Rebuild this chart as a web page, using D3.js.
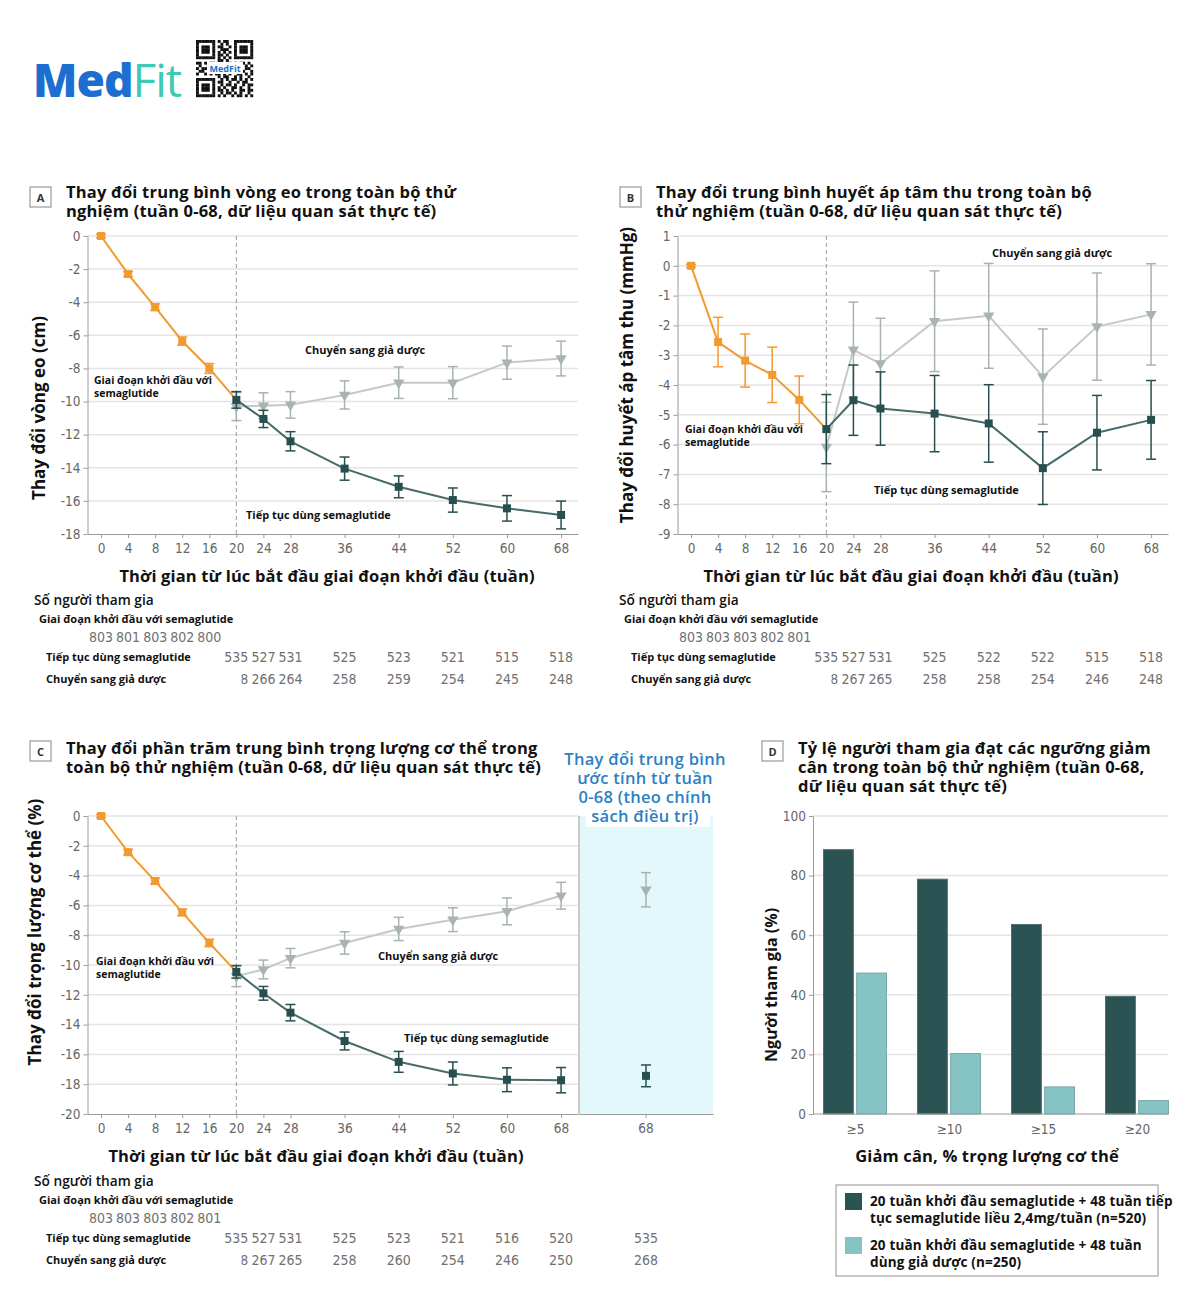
<!DOCTYPE html>
<html>
<head>
<meta charset="utf-8">
<script src="https://cdn.jsdelivr.net/npm/d3@7"></script>
<style>
body { margin: 0; background: #fff; }
svg text { font-family: "Open Sans", "DejaVu Sans", sans-serif; }
.num, .tick text { font-family: "Liberation Sans Narrow", "DejaVu Sans Condensed", sans-serif; font-stretch: condensed; }
</style>
</head>
<body>
<svg id="chart" width="1200" height="1307"></svg>
<script>
// ---- data ----
var weeksLead = [0, 4, 8, 12, 16];
var weeksRand = [20, 24, 28, 36, 44, 52, 60, 68];
var weekTicks = [0, 4, 8, 12, 16, 20, 24, 28, 36, 44, 52, 60, 68];

// A: waist circumference (cm)
var waistTicks = [0, -2, -4, -6, -8, -10, -12, -14, -16, -18];
var waistLead = [0, -2.3, -4.3, -6.35, -8.0];
var waistLeadErr = [0.1, 0.15, 0.2, 0.25, 0.3];
var waistSema = [-9.9, -11.05, -12.4, -14.05, -15.15, -15.95, -16.45, -16.85];
var waistSemaErr = [0.5, 0.52, 0.58, 0.7, 0.66, 0.73, 0.77, 0.84];
var waistPlac = [-10.3, -10.25, -10.2, -9.6, -8.86, -8.86, -7.65, -7.4];
var waistPlacErr = [0.85, 0.78, 0.8, 0.85, 0.95, 0.97, 1.0, 1.05];

// B: systolic blood pressure (mmHg)
var sbpTicks = [1, 0, -1, -2, -3, -4, -5, -6, -7, -8, -9];
var sbpLead = [0, -2.56, -3.18, -3.66, -4.5];
var sbpLeadErr = [0.05, 0.83, 0.89, 0.93, 0.8];
var sbpSema = [-5.48, -4.51, -4.79, -4.96, -5.29, -6.79, -5.6, -5.17];
var sbpSemaErr = [1.16, 1.18, 1.23, 1.28, 1.3, 1.22, 1.25, 1.32];
var sbpPlac = [-6.08, -2.82, -3.28, -1.86, -1.68, -3.72, -2.04, -1.63];
var sbpPlacErr = [1.5, 1.6, 1.52, 1.69, 1.76, 1.6, 1.8, 1.7];

// C: body weight (%)
var weightTicks = [0, -2, -4, -6, -8, -10, -12, -14, -16, -18, -20];
var weightLead = [0, -2.43, -4.37, -6.47, -8.52];
var weightLeadErr = [0.1, 0.18, 0.2, 0.22, 0.25];
var weightSema = [-10.46, -11.9, -13.2, -15.1, -16.5, -17.28, -17.7, -17.73];
var weightSemaErr = [0.42, 0.46, 0.55, 0.6, 0.7, 0.77, 0.8, 0.85];
var weightPlac = [-10.75, -10.3, -9.54, -8.52, -7.58, -6.96, -6.4, -5.35];
var weightPlacErr = [0.7, 0.63, 0.65, 0.75, 0.78, 0.8, 0.9, 0.9];
var policySema = -17.44, policySemaErr = 0.73;
var policyPlac = -4.95, policyPlacErr = 1.15;

// participants
var nA = { lead: [803, 801, 803, 802, 800], sema: [535, 527, 531, 525, 523, 521, 515, 518], plac: [268, 266, 264, 258, 259, 254, 245, 248] };
var nB = { lead: [803, 803, 803, 802, 801], sema: [535, 527, 531, 525, 522, 522, 515, 518], plac: [268, 267, 265, 258, 258, 254, 246, 248] };
var nC = { lead: [803, 803, 803, 802, 801], sema: [535, 527, 531, 525, 523, 521, 516, 520], plac: [268, 267, 265, 258, 260, 254, 246, 250] };
var nCPolicy = { sema: 535, plac: 268 };

// D: proportion reaching weight-loss thresholds
var thresholds = ["≥5", "≥10", "≥15", "≥20"];
var propSema = [88.7, 78.8, 63.6, 39.5];
var propPlac = [47.3, 20.3, 9.1, 4.5];
var propTicks = [0, 20, 40, 60, 80, 100];

// ---- colours ----
var cOrange = "#f19a30", cDark = "#284f50", cDarkLine = "#456b6b", cGray = "#a9b3af", cGrayLine = "#c3c9c6";
var cBarDark = "#2b5353", cBarLight = "#85c3c4";

var svg = d3.select("#chart");

// ---- logo ----
var logo = svg.append("g");
logo.append("text").attr("x", 33).attr("y", 97).attr("font-size", 46).attr("font-weight", 800)
  .attr("fill", "#1c6fd1").attr("letter-spacing", -1).text("Med")
  .append("tspan").attr("fill", "#3ec9b5").attr("font-weight", 500).text("Fit");
var qr = ["#######.#.##..#######", "#.....#..#.#..#.....#", "#.###.#.##..#.#.###.#", "#.###.#..###..#.###.#",
  "#.###.#.#.#.#.#.###.#", "#.....#.##.#..#.....#", "#######.#.#.#.#######", "........##.#.........",
  "##.#.##.#..##.#.##.#.", ".#..#..###.#..##..#.#", "#.##.#.#.#.##.#.#.##.", ".##..##..#..#.#..#..#",
  "#..#.#.##.#.#..##.#.#", "........#.##..#.#..#.", "#######..#.#.##.#.#.#", "#.....#.##..#..#.##..",
  "#.###.#..#.##.#..#.##", "#.###.#.#.#..##.#..#.", "#.###.#.##.#.#..##.##", "#.....#..#.##.#.#..#.",
  "#######.#.#..#.##.#.#"];
var cell = 57 / 21;
qr.forEach(function(row, r) {
  row.split("").forEach(function(ch, c) {
    if (ch === "#") logo.append("rect").attr("x", 196 + c * cell).attr("y", 40 + r * cell)
      .attr("width", cell + 0.2).attr("height", cell + 0.2).attr("fill", "#111");
  });
});
logo.append("rect").attr("x", 207).attr("y", 62).attr("width", 36).attr("height", 12).attr("fill", "#fff");
logo.append("text").attr("x", 225).attr("y", 71.5).attr("text-anchor", "middle").attr("font-size", 9)
  .attr("font-weight", 700).attr("fill", "#1c6fd1").text("MedFit");

// ---- helpers ----
function letterBox(x, y, letter) {
  svg.append("rect").attr("x", x).attr("y", y).attr("width", 21).attr("height", 20)
    .attr("fill", "#fff").attr("stroke", "#999").attr("stroke-width", 1.2);
  svg.append("text").attr("x", x + 10.5).attr("y", y + 14.5).attr("text-anchor", "middle")
    .attr("font-size", 11).attr("font-weight", 700).attr("fill", "#333").text(letter);
}

function multiText(x, y, lines, size, lh, opts) {
  opts = opts || {};
  var t = svg.append("text").attr("x", x).attr("y", y).attr("font-size", size)
    .attr("font-weight", opts.weight || 700).attr("fill", opts.fill || "#111")
    .attr("text-anchor", opts.anchor || "start")
    .attr("letter-spacing", opts.ls || 0);
  lines.forEach(function(l, i) {
    t.append("tspan").attr("x", x).attr("dy", i === 0 ? 0 : lh).text(l);
  });
  return t;
}

function title(x, y, lines) {
  return multiText(x, y, lines, 16.5, 19, { ls: 0.2 });
}

function rotLabel(cx, cy, txt, size) {
  svg.append("text").attr("transform", "translate(" + cx + "," + cy + ") rotate(-90)")
    .attr("text-anchor", "middle").attr("font-size", size).attr("font-weight", 700)
    .attr("fill", "#111").text(txt);
}

function xLabel(cx, y, txt) {
  svg.append("text").attr("x", cx).attr("y", y).attr("text-anchor", "middle").attr("font-size", 16.5)
    .attr("font-weight", 700).attr("letter-spacing", 0.15).attr("fill", "#111").text(txt);
}

function styleAxis(ax) {
  ax.selectAll("path, line").attr("stroke", "#9a9a9a");
  ax.selectAll("text").attr("fill", "#666").attr("font-size", 13.5);
}

function zip(weeks, vals, errs) {
  return weeks.map(function(w, i) { return { w: w, v: vals[i], e: errs[i] }; });
}

function drawSeries(g, x, y, pts, lineColor, markColor, shape, lineExtra) {
  var line = d3.line().x(function(d) { return x(d.w); }).y(function(d) { return y(d.v); });
  var linePts = lineExtra ? pts.concat([lineExtra]) : pts;
  g.append("path").attr("d", line(linePts)).attr("fill", "none")
    .attr("stroke", lineColor).attr("stroke-width", 2);
  var eb = g.append("g").attr("stroke", markColor).attr("stroke-width", 1.5);
  pts.forEach(function(d) {
    var px = x(d.w), y1 = y(d.v + d.e), y2 = y(d.v - d.e);
    eb.append("line").attr("x1", px).attr("x2", px).attr("y1", y1).attr("y2", y2);
    eb.append("line").attr("x1", px - 5).attr("x2", px + 5).attr("y1", y1).attr("y2", y1);
    eb.append("line").attr("x1", px - 5).attr("x2", px + 5).attr("y1", y2).attr("y2", y2);
  });
  pts.forEach(function(d) {
    if (shape === "tri") {
      g.append("path").attr("d", d3.symbol(d3.symbolTriangle, 55)())
        .attr("transform", "translate(" + x(d.w) + "," + y(d.v) + ") rotate(180)")
        .attr("fill", markColor);
    } else {
      g.append("rect").attr("x", x(d.w) - 4).attr("y", y(d.v) - 4).attr("width", 8).attr("height", 8)
        .attr("fill", markColor);
    }
  });
}

function drawLinePanel(p) {
  var g = svg.append("g");
  var x = d3.scaleLinear().domain([-2, 70.5]).range([p.left, p.right]);
  var y = d3.scaleLinear().domain([p.ticks[0], p.ticks[p.ticks.length - 1]]).range([p.top, p.bottom]);

  // gridlines
  g.selectAll(".grid").data(p.ticks.slice(0, -1)).enter().append("line")
    .attr("x1", p.left).attr("x2", p.right).attr("y1", y).attr("y2", y)
    .attr("stroke", "#e4e4e4").attr("stroke-width", 1.5);

  // dashed line at week 20
  g.append("line").attr("x1", x(20)).attr("x2", x(20)).attr("y1", p.top).attr("y2", p.bottom)
    .attr("stroke", "#9a9a9a").attr("stroke-dasharray", "4,3");

  var yAx = g.append("g").attr("transform", "translate(" + p.left + ",0)")
    .call(d3.axisLeft(y).tickValues(p.ticks).tickSize(4).tickSizeOuter(0).tickPadding(3)
      .tickFormat(function(d) { return String(d); }));
  styleAxis(yAx);
  var xAx = g.append("g").attr("transform", "translate(0," + p.bottom + ")")
    .call(d3.axisBottom(x).tickValues(weekTicks).tickSize(4).tickSizeOuter(0).tickPadding(5));
  styleAxis(xAx);

  var lead = zip(weeksLead, p.lead, p.leadErr);
  var sema = zip(weeksRand, p.sema, p.semaErr);
  var plac = zip(weeksRand, p.plac, p.placErr);

  drawSeries(g, x, y, plac, cGrayLine, cGray, "tri");
  // label background hides the lead-in line where it crosses
  if (p.leadLabelBg) {
    g.append("rect").attr("x", p.leadLabelBg[0]).attr("y", p.leadLabelBg[1])
      .attr("width", p.leadLabelBg[2]).attr("height", p.leadLabelBg[3]).attr("fill", "#fff");
  }
  drawSeries(g, x, y, lead, cOrange, cOrange, "sq", { w: 20, v: p.sema[0] });
  drawSeries(g, x, y, sema, cDarkLine, cDark, "sq");
  return { x: x, y: y, g: g };
}

function drawCounts(x, top, labelX, n) {
  multiText(labelX, top, ["Số người tham gia"], 13.7, 0, { weight: 600 });
  multiText(labelX + 5, top + 18, ["Giai đoạn khởi đầu với semaglutide"], 11, 0);
  multiText(labelX + 12, top + 56, ["Tiếp tục dùng semaglutide"], 11, 0);
  multiText(labelX + 12, top + 78, ["Chuyển sang giả dược"], 11, 0);
  var rows = [{ w: weeksLead, v: n.lead, dy: 37 }, { w: weeksRand, v: n.sema, dy: 57 }, { w: weeksRand, v: n.plac, dy: 79 }];
  rows.forEach(function(r) {
    svg.append("g").selectAll("text").data(r.v).enter().append("text").attr("class", "num")
      .attr("x", function(d, i) { return x(r.w[i]); }).attr("y", top + r.dy)
      .attr("text-anchor", "middle").attr("font-size", 14).attr("fill", "#707070")
      .text(function(d) { return d; });
  });
  // first placebo count is partly masked in the original
  svg.append("rect").attr("x", x(20) - 14).attr("y", top + 65).attr("width", 19).attr("height", 18).attr("fill", "#fff");
}

// ---- Panel A ----
letterBox(30, 187, "A");
title(66, 198, ["Thay đổi trung bình vòng eo trong toàn bộ thử", "nghiệm (tuần 0-68, dữ liệu quan sát thực tế)"]);
var pA = drawLinePanel({ left: 87.5, right: 578, top: 236, bottom: 534, ticks: waistTicks,
  lead: waistLead, leadErr: waistLeadErr, sema: waistSema, semaErr: waistSemaErr, plac: waistPlac, placErr: waistPlacErr,
  leadLabelBg: [92, 373, 133, 27] });
rotLabel(45, 408, "Thay đổi vòng eo (cm)", 17);
xLabel(327, 582, "Thời gian từ lúc bắt đầu giai đoạn khởi đầu (tuần)");
multiText(305, 354, ["Chuyển sang giả dược"], 11, 0);
multiText(94, 384, ["Giai đoạn khởi đầu với", "semaglutide"], 10.5, 13);
multiText(246, 519, ["Tiếp tục dùng semaglutide"], 11, 0);
drawCounts(pA.x, 605, 34, nA);

// ---- Panel B ----
letterBox(620, 187, "B");
title(656, 198, ["Thay đổi trung bình huyết áp tâm thu trong toàn bộ", "thử nghiệm (tuần 0-68, dữ liệu quan sát thực tế)"]);
var pB = drawLinePanel({ left: 677.5, right: 1168, top: 236, bottom: 534, ticks: sbpTicks,
  lead: sbpLead, leadErr: sbpLeadErr, sema: sbpSema, semaErr: sbpSemaErr, plac: sbpPlac, placErr: sbpPlacErr });
rotLabel(633, 375, "Thay đổi huyết áp tâm thu (mmHg)", 17);
xLabel(911, 582, "Thời gian từ lúc bắt đầu giai đoạn khởi đầu (tuần)");
multiText(992, 257, ["Chuyển sang giả dược"], 11, 0);
multiText(685, 433, ["Giai đoạn khởi đầu với", "semaglutide"], 10.5, 13);
multiText(874, 494, ["Tiếp tục dùng semaglutide"], 11, 0);
drawCounts(pB.x, 605, 619, nB);

// ---- Panel C ----
letterBox(30, 741, "C");
title(66, 754, ["Thay đổi phần trăm trung bình trọng lượng cơ thể trong", "toàn bộ thử nghiệm (tuần 0-68, dữ liệu quan sát thực tế)"]);
// treatment-policy estimate region
svg.append("rect").attr("x", 579).attr("y", 816).attr("width", 134).attr("height", 298).attr("fill", "#e2f8fb");
var pC = drawLinePanel({ left: 87.5, right: 578, top: 816, bottom: 1114, ticks: weightTicks,
  lead: weightLead, leadErr: weightLeadErr, sema: weightSema, semaErr: weightSemaErr, plac: weightPlac, placErr: weightPlacErr });
svg.append("line").attr("x1", 579).attr("x2", 579).attr("y1", 816).attr("y2", 1114).attr("stroke", "#9a9a9a");
var xPol = d3.scaleBand().domain(["68"]).range([579, 713]);
var polAx = svg.append("g").attr("transform", "translate(0,1114)")
  .call(d3.axisBottom(xPol).tickSize(4).tickSizeOuter(0).tickPadding(5));
styleAxis(polAx);
var polX = function() { return 646; };
drawSeries(svg.append("g"), polX, pC.y, [{ w: 68, v: policyPlac, e: policyPlacErr }], cGrayLine, cGray, "tri");
drawSeries(svg.append("g"), polX, pC.y, [{ w: 68, v: policySema, e: policySemaErr }], cDarkLine, cDark, "sq");
svg.append("rect").attr("x", 586).attr("y", 748).attr("width", 124).attr("height", 79).attr("fill", "#fff");
multiText(645, 765, ["Thay đổi trung bình", "ước tính từ tuần", "0-68 (theo chính", "sách điều trị)"], 16.5, 19,
  { anchor: "middle", fill: "#2b7fc3", weight: 600, ls: 0.3 });
rotLabel(41, 932, "Thay đổi trọng lượng cơ thể (%)", 17);
xLabel(316, 1162, "Thời gian từ lúc bắt đầu giai đoạn khởi đầu (tuần)");
svg.append("rect").attr("x", 375).attr("y", 946).attr("width", 130).attr("height", 14).attr("fill", "#fff");
multiText(378, 960, ["Chuyển sang giả dược"], 11, 0);
multiText(96, 965, ["Giai đoạn khởi đầu với", "semaglutide"], 10.5, 13);
multiText(404, 1042, ["Tiếp tục dùng semaglutide"], 11, 0);
drawCounts(pC.x, 1186, 34, nC);
svg.append("text").attr("class", "num").attr("x", 646).attr("y", 1243).attr("text-anchor", "middle")
  .attr("font-size", 14).attr("fill", "#707070").text(nCPolicy.sema);
svg.append("text").attr("class", "num").attr("x", 646).attr("y", 1265).attr("text-anchor", "middle")
  .attr("font-size", 14).attr("fill", "#707070").text(nCPolicy.plac);

// ---- Panel D ----
letterBox(762, 741, "D");
title(798, 754, ["Tỷ lệ người tham gia đạt các ngưỡng giảm", "cân trong toàn bộ thử nghiệm (tuần 0-68,", "dữ liệu quan sát thực tế)"]);
var dLeft = 813, dRight = 1168, dTop = 816, dBottom = 1114;
var yD = d3.scaleLinear().domain([0, 100]).range([dBottom, dTop]);
var xD = d3.scalePoint().domain(thresholds).range([855, 1137]);
var xSub = d3.scaleBand().domain(["sema", "plac"]).range([-31.5, 31.5]).paddingInner(0.1);
var gD = svg.append("g");
gD.selectAll(".grid").data(propTicks.slice(1)).enter().append("line")
  .attr("x1", dLeft).attr("x2", dRight).attr("y1", yD).attr("y2", yD)
  .attr("stroke", "#e4e4e4").attr("stroke-width", 1.5);
var barData = [];
thresholds.forEach(function(t, i) {
  barData.push({ t: t, k: "sema", v: propSema[i] });
  barData.push({ t: t, k: "plac", v: propPlac[i] });
});
gD.selectAll(".bar").data(barData).enter().append("rect")
  .attr("x", function(d) { return xD(d.t) + xSub(d.k); })
  .attr("width", xSub.bandwidth())
  .attr("y", function(d) { return yD(d.v); })
  .attr("height", function(d) { return yD(0) - yD(d.v); })
  .attr("fill", function(d) { return d.k === "sema" ? cBarDark : cBarLight; })
  .attr("stroke", function(d) { return d.k === "sema" ? "#4f6e6e" : "#7aa9aa"; })
  .attr("stroke-width", 1);
var yDAx = gD.append("g").attr("transform", "translate(" + dLeft + ",0)")
  .call(d3.axisLeft(yD).tickValues(propTicks).tickSize(4).tickSizeOuter(0).tickPadding(3));
styleAxis(yDAx);
gD.append("line").attr("x1", dLeft).attr("x2", dRight).attr("y1", dBottom).attr("y2", dBottom).attr("stroke", "#9a9a9a");
var xDAx = gD.append("g").attr("transform", "translate(0," + dBottom + ")")
  .call(d3.axisBottom(xD).tickSize(0).tickPadding(10));
xDAx.select(".domain").remove();
styleAxis(xDAx);
rotLabel(777, 985, "Người tham gia (%)", 16);
xLabel(987, 1162, "Giảm cân, % trọng lượng cơ thể");

// legend
svg.append("rect").attr("x", 836).attr("y", 1185).attr("width", 322).attr("height", 91)
  .attr("fill", "#fff").attr("stroke", "#b5b5b5").attr("stroke-width", 1.5);
svg.append("rect").attr("x", 845).attr("y", 1193).attr("width", 17).attr("height", 17).attr("fill", cBarDark);
svg.append("rect").attr("x", 845).attr("y", 1237).attr("width", 17).attr("height", 17).attr("fill", cBarLight);
multiText(870, 1206, ["20 tuần khởi đầu semaglutide + 48 tuần tiếp", "tục semaglutide liều 2,4mg/tuần (n=520)"], 13.5, 17, { ls: 0.15 });
multiText(870, 1250, ["20 tuần khởi đầu semaglutide + 48 tuần", "dùng giả dược (n=250)"], 13.5, 17, { ls: 0.15 });
</script>
</body>
</html>
